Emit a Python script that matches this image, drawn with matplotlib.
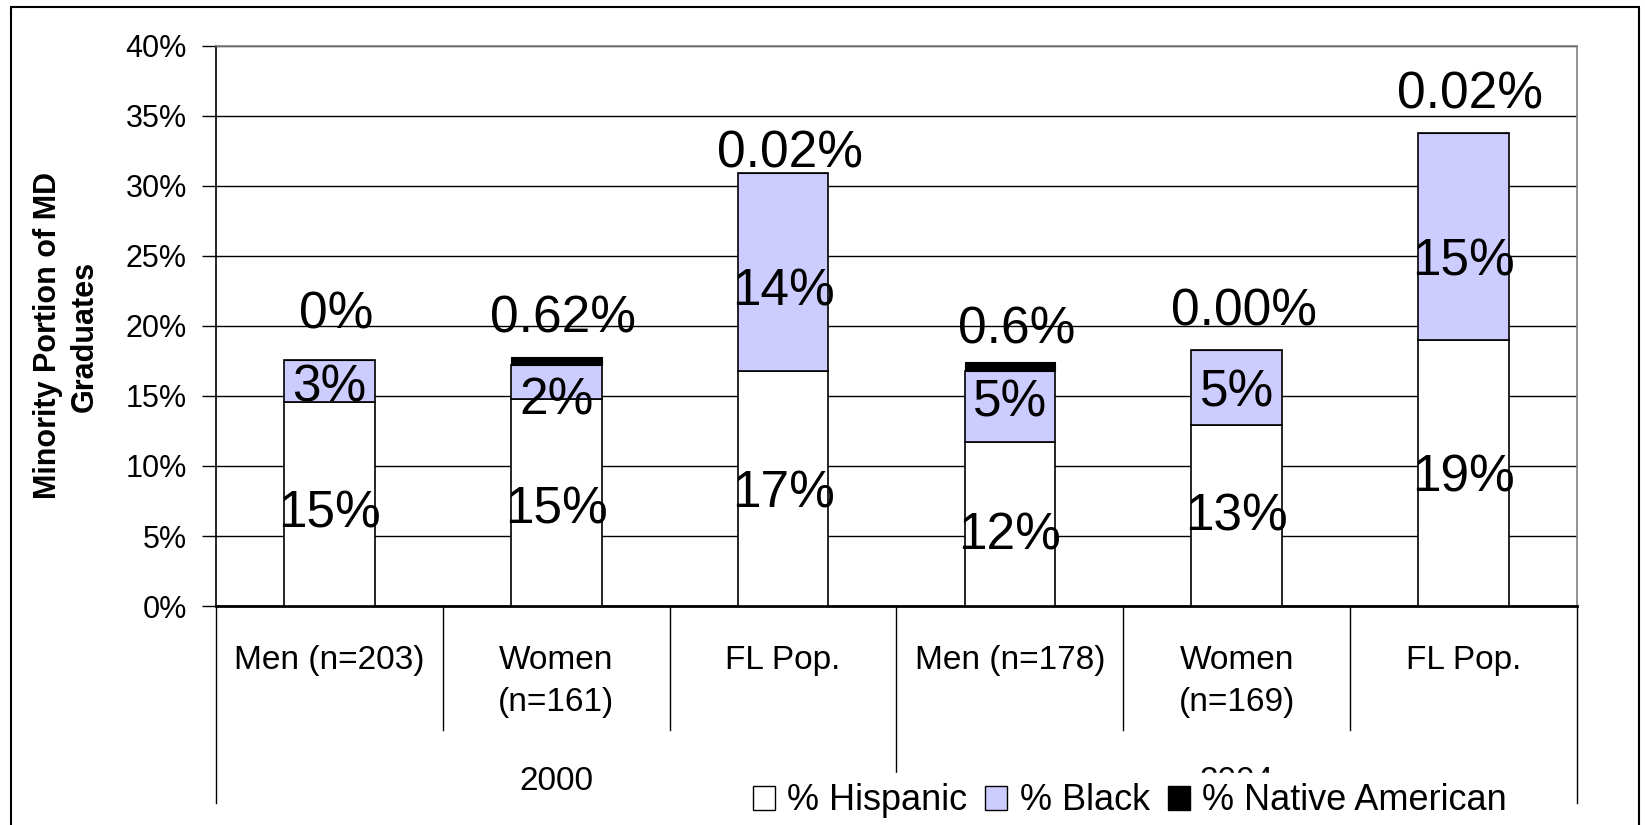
import matplotlib
matplotlib.use("Agg")
import matplotlib.pyplot as plt
from matplotlib.patches import Patch, Rectangle
from matplotlib.ticker import PercentFormatter, MultipleLocator
import matplotlib.transforms as mtrans

plt.rcParams['font.family'] = ['Liberation Sans', 'DejaVu Sans']

# ---- data ----
categories = ["Men (n=203)", "Women\n(n=161)", "FL Pop.", "Men (n=178)", "Women\n(n=169)", "FL Pop."]
groups = ["2000", "2004"]
series_names = ["% Hispanic", "% Black", "% Native American"]
hispanic = [14.6, 14.8, 16.8, 11.7, 12.9, 19.0]
black = [3.0, 2.4, 14.1, 5.1, 5.4, 14.8]
native = [0.0, 0.62, 0.02, 0.6, 0.0, 0.02]
hispanic_labels = ["15%", "15%", "17%", "12%", "13%", "19%"]
black_labels = ["3%", "2%", "14%", "5%", "5%", "15%"]
native_labels = ["0%", "0.62%", "0.02%", "0.6%", "0.00%", "0.02%"]

# ---- style (label placement tweaks, in axis units) ----
native_label_offset = [3.2, 2.7, 1.4, 2.3, 2.7, 2.7]
hispanic_label_shift = [0.75, 0.52, 0.37, 0.82, 0.07, 0.37]
black_label_shift = [0.52, 1.35, 1.42, -0.22, 0.37, 1.8]
colors = ["#FFFFFF", "#CCCCFF", "#000000"]

W, H = 1645, 825
fig = plt.figure(figsize=(W / 100, H / 100), dpi=100)
ax = fig.add_axes([216 / W, 1 - 606 / H, (1577 - 216) / W, (606 - 46) / H])

x = list(range(len(categories)))
bw = 0.40
bottom2 = [h + b for h, b in zip(hispanic, black)]
ax.bar(x, hispanic, bw, color=colors[0], edgecolor="black", linewidth=1.2, zorder=3)
ax.bar(x, black, bw, bottom=hispanic, color=colors[1], edgecolor="black", linewidth=1.2, zorder=3)
ax.bar(x, native, bw, bottom=bottom2, color=colors[2], edgecolor="black", linewidth=0.8, zorder=3)

lab_fs = 37
for i in x:
    ax.text(i, hispanic[i] / 2 - hispanic_label_shift[i], hispanic_labels[i], ha="center", va="center",
            fontsize=lab_fs, zorder=5)
    ax.text(i, hispanic[i] + black[i] / 2 - black_label_shift[i], black_labels[i], ha="center", va="center",
            fontsize=lab_fs, zorder=5)
    top = hispanic[i] + black[i] + native[i]
    ax.text(i + 0.03, top + native_label_offset[i], native_labels[i], ha="center", va="center",
            fontsize=lab_fs, zorder=5)

ax.set_xlim(-0.5, len(categories) - 0.5)
ax.set_ylim(0, 40)
ax.yaxis.set_major_locator(MultipleLocator(5))
ax.yaxis.set_major_formatter(PercentFormatter(decimals=0))
ax.tick_params(axis="y", labelsize=22, length=10, width=1, pad=11, direction="out")
ax.set_xticks([])
ax.grid(axis="y", color="black", linewidth=1, zorder=0)
ax.set_axisbelow(True)

for s in ["top", "right"]:
    ax.spines[s].set_color("#808080")
    ax.spines[s].set_linewidth(1.2)
ax.spines["left"].set_color("black")
ax.spines["left"].set_linewidth(1.2)
ax.spines["bottom"].set_color("black")
ax.spines["bottom"].set_linewidth(2)

# hierarchical category axis
tr = mtrans.blended_transform_factory(ax.transData, ax.transAxes)
ax_h = 606 - 46
y_short = -(730 - 606) / ax_h
y_long = -(803 - 606) / ax_h
n = len(categories)
for k in range(n + 1):
    xb = k - 0.5
    ylo = y_long if k in (0, n // 2, n) else y_short
    ax.plot([xb, xb], [0, ylo], transform=tr, color="black", lw=1, clip_on=False, zorder=1)
for i, c in enumerate(categories):
    ax.text(i, -(645 - 606) / ax_h, c, transform=tr, ha="center", va="top", fontsize=24,
            linespacing=1.45, clip_on=False)
for g, gname in enumerate(groups):
    ax.text(g * 3 + 1, -(781 - 606) / ax_h, gname, transform=tr, ha="center", va="center",
            fontsize=24, clip_on=False)

# y label
fig.text(66 / W, 1 - 336 / H, "Minority Portion of MD\nGraduates", rotation=90, ha="center",
         va="center", fontsize=22, fontweight="bold", linespacing=1.3, multialignment="center")

# legend
handles = [Patch(facecolor=c, edgecolor="black", linewidth=1) for c in colors]
leg = fig.legend(handles, series_names, loc="center", bbox_to_anchor=(1130 / W, 1 - 801 / H),
                 ncol=3, fontsize=26, frameon=True, fancybox=False, handlelength=0.6,
                 handleheight=0.65, handletextpad=0.35, columnspacing=0.5, borderpad=0.3,
                 borderaxespad=0)
leg.get_frame().set_facecolor("white")
leg.get_frame().set_edgecolor("white")
leg.get_frame().set_alpha(1)
leg.set_zorder(10)

# outer frame
fig.patches.append(Rectangle((11 / W, -0.02), (1639 - 11) / W, 1 - 7 / H + 0.02, transform=fig.transFigure,
                             fill=False, edgecolor="black", linewidth=1.5, zorder=20))

fig.savefig("out.png", dpi=100)
